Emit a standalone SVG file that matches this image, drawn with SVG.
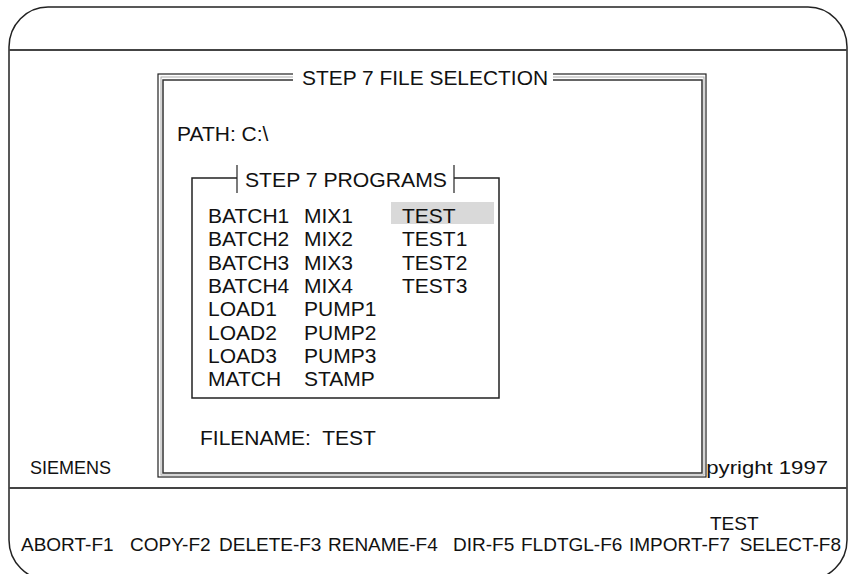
<svg xmlns="http://www.w3.org/2000/svg" width="850" height="574" viewBox="0 0 850 574">
<style>
text{font-family:"Liberation Sans",Arial,sans-serif;fill:#111;}
.t21{font-size:21px;}
.t18{font-size:18px;}
.t19{font-size:19px;}
.frame{fill:none;stroke:#222;stroke-width:1.5;}
.div{stroke:#444;stroke-width:2;}
</style>
<rect width="850" height="574" fill="#fff"/>
<g id="screen">
<path class="frame" d="M48 7 H808 A39 40 0 0 1 847 47 V540 A40 40 0 0 1 807 580 H49 A40 40 0 0 1 9 540 V47 A39 40 0 0 1 48 7 Z"/>
<line class="div" x1="9" y1="50" x2="847" y2="50"/>
<line class="div" x1="9" y1="488" x2="847" y2="488"/>
<text class="t18" x="30" y="474">SIEMENS</text>
<text x="678" y="474" font-size="19" textLength="150" lengthAdjust="spacingAndGlyphs">Copyright 1997</text>
</g>
<g id="dialog">
<rect x="158" y="74" width="548" height="403" fill="#fff" stroke="#222" stroke-width="1.2"/>
<rect x="161" y="77" width="543" height="398" fill="none" stroke="#aaa" stroke-width="1"/>
<rect x="163" y="80" width="539" height="393" fill="none" stroke="#333" stroke-width="1.5"/>
<rect x="293" y="68" width="260" height="16" fill="#fff"/>
<text class="t21" x="302" y="85" textLength="246" lengthAdjust="spacingAndGlyphs">STEP 7 FILE SELECTION</text>
<text class="t21" x="177" y="141">PATH: C:\</text>
<text class="t21" x="200" y="445" xml:space="preserve" style="white-space:pre">FILENAME:  TEST</text>
</g>
<g id="programs">
<path class="frame" d="M237 178 H192 V398 H499 V178 H454"/>
<line x1="237" y1="165" x2="237" y2="193" stroke="#222" stroke-width="1.2"/>
<line x1="454" y1="165" x2="454" y2="193" stroke="#222" stroke-width="1.2"/>
<text class="t21" x="245" y="187" textLength="202" lengthAdjust="spacingAndGlyphs">STEP 7 PROGRAMS</text>
<rect x="391" y="202" width="103" height="22" fill="#d9d9d9"/>
<g class="t21">
<text x="208" y="223">BATCH1</text>
<text x="208" y="246.3">BATCH2</text>
<text x="208" y="269.6">BATCH3</text>
<text x="208" y="292.9">BATCH4</text>
<text x="208" y="316.2">LOAD1</text>
<text x="208" y="339.5">LOAD2</text>
<text x="208" y="362.8">LOAD3</text>
<text x="208" y="386">MATCH</text>
<text x="304" y="223">MIX1</text>
<text x="304" y="246.3">MIX2</text>
<text x="304" y="269.6">MIX3</text>
<text x="304" y="292.9">MIX4</text>
<text x="304" y="316.2">PUMP1</text>
<text x="304" y="339.5">PUMP2</text>
<text x="304" y="362.8">PUMP3</text>
<text x="304" y="386">STAMP</text>
<text x="402" y="223">TEST</text>
<text x="402" y="246.3">TEST1</text>
<text x="402" y="269.6">TEST2</text>
<text x="402" y="292.9">TEST3</text>
</g>
</g>
<g id="keys" class="t19">
<text x="21" y="551">ABORT-F1</text>
<text x="130" y="551">COPY-F2</text>
<text x="219" y="551">DELETE-F3</text>
<text x="328" y="551">RENAME-F4</text>
<text x="453" y="551">DIR-F5</text>
<text x="521" y="551">FLDTGL-F6</text>
<text x="629" y="551">IMPORT-F7</text>
<text x="841" y="551" text-anchor="end">SELECT-F8</text>
<text x="710" y="530">TEST</text>
</g>
</svg>
